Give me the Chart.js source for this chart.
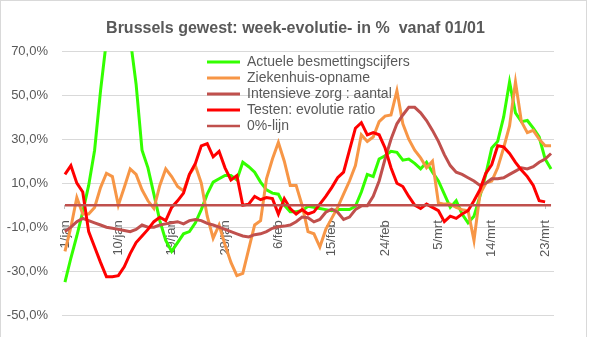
<!DOCTYPE html>
<html>
<head>
<meta charset="utf-8">
<script src="https://cdn.jsdelivr.net/npm/chart.js@4"></script>
<style>
  html, body { margin: 0; padding: 0; background: #fff; }
  #wrap { position: relative; width: 591px; height: 337px; overflow: hidden; }
  #kader { position: absolute; left: 0; top: 0; width: 585px; height: 340px; border: 1px solid #d9d9d9; }
  #grafiek { position: absolute; left: 0; top: 0; }
</style>
</head>
<body>
<div id="wrap"><div id="kader"></div><canvas id="grafiek" width="591" height="337"></canvas></div>
<script>
// dagen 1/jan t/m 24/mrt
const dagen = [
  '1/jan','2/jan','3/jan','4/jan','5/jan','6/jan','7/jan','8/jan','9/jan','10/jan',
  '11/jan','12/jan','13/jan','14/jan','15/jan','16/jan','17/jan','18/jan','19/jan','20/jan',
  '21/jan','22/jan','23/jan','24/jan','25/jan','26/jan','27/jan','28/jan','29/jan','30/jan','31/jan',
  '1/feb','2/feb','3/feb','4/feb','5/feb','6/feb','7/feb','8/feb','9/feb','10/feb',
  '11/feb','12/feb','13/feb','14/feb','15/feb','16/feb','17/feb','18/feb','19/feb','20/feb',
  '21/feb','22/feb','23/feb','24/feb','25/feb','26/feb','27/feb','28/feb',
  '1/mrt','2/mrt','3/mrt','4/mrt','5/mrt','6/mrt','7/mrt','8/mrt','9/mrt','10/mrt',
  '11/mrt','12/mrt','13/mrt','14/mrt','15/mrt','16/mrt','17/mrt','18/mrt','19/mrt','20/mrt',
  '21/mrt','22/mrt','23/mrt','24/mrt'
];

// week-evolutie in %
const besmettingen = [
  -35, -24, -14, -3, 9, 25, 52, 75, 95, 100,
  90, 76, 55, 25, 17, 5, -7, -16, -21, -17,
  -13, -12, -8, -2, 5, 10.5, 12, 13.5, 13.5, 11.5,
  19.5, 17.5, 15, 10.5, 7, 5.5, 5, 0, -3, -3,
  -2.5, -0.5, -1, -1.5, -2, -2.5, -2, -2, -2, -0.5,
  6, 14, 13, 21, 22.5, 24.5, 24, 20.5, 21, 19,
  16.5, 19.5, 15, 11, 5, -1, 2, -4, -8, -5,
  4, 14, 26, 29, 40, 56, 42, 38, 38.5, 35,
  31, 21, 16.5
];
const ziekenhuis = [
  -21, -10, 3.5, -4, -4, -1, 8, 14.5, 13, 0,
  8, 16.5, 14, 7, 2, -1.5, 9, 16.5, 13, 8.5,
  6.5, 14, 18, 10, -5, -15, -9, -18, -26, -32,
  -31, -20, -9, -7, 12, 21, 28.5, 20, 9, 9,
  0, -12, -13, -19, -11, -6, -1, 5, 11, 18,
  32, 29, 31, 38, 40.5, 41, 52, 37, 30, 25,
  21.5, 17, 20, 1, 0.5, 0.5, -1, -2, -2.5, -16,
  5, 10, 11, 17, 26, 36, 56, 38, 33, 34,
  30, 27, 27
];
const intensieveZorg = [
  -12, -10, -7.5, -6, -7, -8, -9, -10, -10.5, -11,
  -11.5, -12, -11, -9, -10, -10, -9, -8.5, -8, -7.5,
  -8.5, -7, -6.5, -7, -8.3, -9, -10, -11, -12, -13,
  -14, -14.4, -13.4, -13, -12, -10.5, -9.8, -9.5, -9, -7.5,
  -5.4, -5.7, -7.6, -6.5, -3.2, -1.8, -3.2, -6.5, -5.4, -2,
  -0.3, -0.3, 4, 11, 21, 30, 37, 41, 44.5, 44.5,
  42, 38.5, 34, 29, 23, 18, 15, 14, 12.5, 11,
  9, 10, 12, 12, 12.5, 14, 15.5, 17, 16.5, 17.5,
  19.5, 21, 23.5
];
const testen = [
  14, 18, 10, 6, -12, -19, -26, -32.5, -32.5, -32,
  -28, -22, -17, -14, -11, -7.5, -5.5, -7, -1, 2,
  5.5, 14, 19, 27, 28, 22, 24.5, 17, 11.5, 13.5,
  0, 0.5, 4, 2.5, 3.5, 3, -4, 3, -1.5, -4,
  -2, -4, -3, 0.5, 4, 8, 12.5, 15, 25, 35,
  37.5, 32, 33, 32, 26, 17, 10, 8.5, 4, 0,
  -1.5, 0.5, -1, -2.5, -7.5, -5, -6, -4, -2.5, 2,
  7, 14.5, 18.5, 27, 26.5, 23.5, 19.5, 16, 13, 9,
  2, 1.5
];
const nulLijn = [
  0, 0, 0, 0, 0, 0, 0, 0, 0, 0, 0, 0, 0, 0, 0, 0, 0, 0, 0, 0,
  0, 0, 0, 0, 0, 0, 0, 0, 0, 0, 0, 0, 0, 0, 0, 0, 0, 0, 0, 0,
  0, 0, 0, 0, 0, 0, 0, 0, 0, 0, 0, 0, 0, 0, 0, 0, 0, 0, 0, 0,
  0, 0, 0, 0, 0, 0, 0, 0, 0, 0, 0, 0, 0, 0, 0, 0, 0, 0, 0, 0,
  0, 0, 0
];

const grijs = '#595959';
Chart.defaults.font.family = "'Liberation Sans', Arial, sans-serif";

// legende in de grafiek iets naar rechts, titel gecentreerd over het hele canvas
const plaatsing = {
  id: 'plaatsing',
  afterLayout(chart) {
    chart.legend.left = 205;
    chart.legend.top = 53;
    chart.titleBlock.left = 0;
    chart.titleBlock.right = chart.width;
  }
};

new Chart(document.getElementById('grafiek'), {
  type: 'line',
  data: {
    labels: dagen,
    datasets: [
      { label: 'Actuele besmettingscijfers', data: besmettingen, borderColor: '#33ff00', backgroundColor: '#33ff00', borderWidth: 3, order: 5 },
      { label: 'Ziekenhuis-opname', data: ziekenhuis, borderColor: '#f79646', backgroundColor: '#f79646', borderWidth: 3, order: 4 },
      { label: 'Intensieve zorg : aantal', data: intensieveZorg, borderColor: '#c0504d', backgroundColor: '#c0504d', borderWidth: 3, order: 3 },
      { label: 'Testen: evolutie ratio', data: testen, borderColor: '#ff0000', backgroundColor: '#ff0000', borderWidth: 3, order: 2 },
      { label: '0%-lijn', data: nulLijn, borderColor: '#c0504d', backgroundColor: '#c0504d', borderWidth: 2.5, order: 1 }
    ]
  },
  options: {
    responsive: false,
    animation: false,
    layout: { padding: { left: 0, right: 37, top: 0, bottom: 12 } },
    elements: {
      line: { tension: 0, fill: false },
      point: { radius: 0 }
    },
    plugins: {
      title: {
        display: true,
        text: 'Brussels gewest: week-evolutie- in %  vanaf 01/01',
        color: grijs,
        font: { size: 16, weight: 'bold' },
        padding: { top: 19, bottom: 13 }
      },
      legend: {
        position: 'chartArea',
        align: 'start',
        labels: {
          usePointStyle: true,
          pointStyle: 'line',
          pointStyleWidth: 33,
          padding: 2,
          color: grijs,
          font: { size: 14 },
          sort: (a, b) => a.datasetIndex - b.datasetIndex
        }
      },
      tooltip: { enabled: false }
    },
    scales: {
      x: {
        position: { y: 0 },
        offset: true,
        border: { display: false },
        grid: {
          drawOnChartArea: false,
          tickLength: 4,
          color: (ctx) => ctx.index % 9 === 0 ? '#bfbfbf' : 'transparent'
        },
        ticks: {
          autoSkip: false,
          minRotation: 90,
          maxRotation: 90,
          padding: 11,
          color: grijs,
          font: { size: 13 },
          callback: function (value, index) {
            return index % 9 === 0 ? this.getLabelForValue(value) : null;
          }
        }
      },
      y: {
        min: -50,
        max: 70,
        afterFit: (scale) => { scale.width = 62; },
        border: { display: false },
        grid: { color: '#d9d9d9', drawTicks: false },
        ticks: {
          stepSize: 20,
          padding: 14,
          color: grijs,
          font: { size: 13 },
          callback: (v) => v.toFixed(1).replace('.', ',') + '%'
        }
      }
    }
  },
  plugins: [plaatsing]
});
</script>
</body>
</html>
